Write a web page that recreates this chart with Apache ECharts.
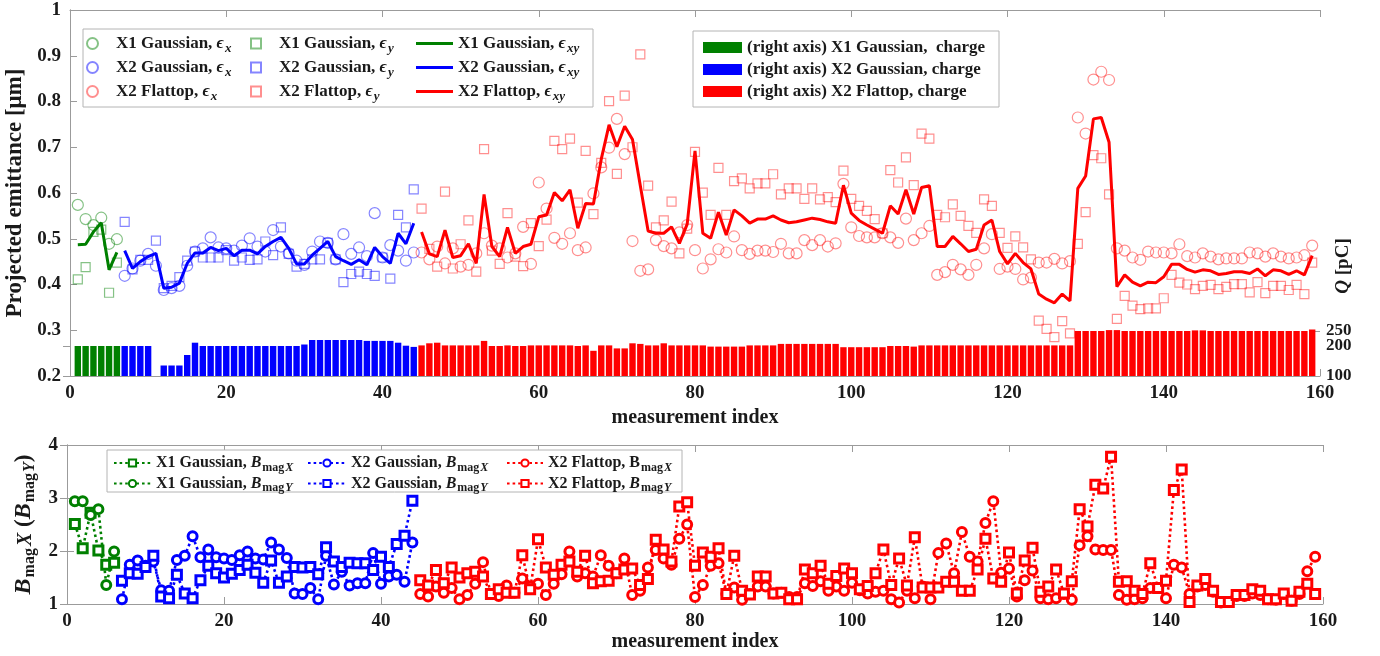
<!DOCTYPE html>
<html>
<head>
<meta charset="utf-8">
<script src="https://cdn.jsdelivr.net/npm/echarts@6/dist/echarts.min.js"></script>
<style>
  html, body { margin: 0; padding: 0; background: #fff; }
  #chart { width: 1380px; height: 656px; }
</style>
</head>
<body>
<div id="chart"></div>
<script>
// measurement index where each beam group begins
const X1_START = 1
const X2G_START = 7
const X2F_START = 45

// --- X1 Gaussian (index 1..6) ---
const x1Ex = [0.574, 0.543, 0.530, 0.546, 0.489, 0.499]
const x1Ey = [0.411, 0.438, 0.515, 0.520, 0.382, 0.448]
const x1Exy = [0.487, 0.488, 0.515, 0.535, 0.432, 0.470]
const x1Charge = [200, 200, 200, 200, 200, 200]
const x1BmagX = [2.51, 2.05, 2.72, 2.01, 1.74, 1.78]
const x1BmagY = [2.94, 2.94, 2.68, 2.79, 1.36, 1.99]

// --- X2 Gaussian (index 7..44) ---
const x2gEx = [0.419, 0.435, 0.452, 0.467, 0.441, 0.388, 0.392, 0.397, 0.441, 0.472,
  0.479, 0.503, 0.481, 0.479, 0.474, 0.485, 0.501, 0.483, 0.472, 0.519,
  0.483, 0.468, 0.452, 0.443, 0.472, 0.494, 0.491, 0.455, 0.510, 0.467,
  0.481, 0.462, 0.556, 0.459, 0.486, 0.474, 0.452, 0.470]
const x2gEy = [0.537, 0.433, 0.454, 0.454, 0.496, 0.392, 0.397, 0.416, 0.452, 0.472,
  0.459, 0.459, 0.459, 0.475, 0.452, 0.459, 0.454, 0.455, 0.494, 0.464,
  0.525, 0.467, 0.439, 0.445, 0.455, 0.455, 0.491, 0.455, 0.405, 0.423,
  0.428, 0.423, 0.419, 0.459, 0.413, 0.552, 0.525, 0.608]
const x2gExy = [0.474, 0.435, 0.450, 0.461, 0.468, 0.392, 0.394, 0.403, 0.446, 0.469,
  0.469, 0.481, 0.474, 0.479, 0.463, 0.475, 0.475, 0.467, 0.483, 0.494,
  0.503, 0.479, 0.445, 0.445, 0.464, 0.479, 0.494, 0.461, 0.452, 0.444,
  0.454, 0.443, 0.481, 0.461, 0.446, 0.512, 0.489, 0.534]
const x2gCharge = [200, 200, 200, 200, null, 135, 135, 135, 170, 211,
  200, 200, 200, 200, 200, 200, 200, 200, 200, 200,
  200, 200, 200, 205, 220, 220, 220, 220, 220, 220,
  220, 217, 217, 217, 217, 211, 201, 197]
const x2gBmagX = [1.09, 1.74, 1.82, 1.72, 1.80, 1.26, 1.25, 1.83, 1.91, 2.28,
  1.88, 2.03, 1.88, 1.86, 1.83, 1.92, 1.99, 1.86, 1.84, 2.16,
  2.03, 1.87, 1.20, 1.19, 1.30, 1.09, 1.91, 1.37, 1.61, 1.35,
  1.39, 1.39, 1.96, 1.38, 1.52, 1.55, 1.42, 2.16]
const x2gBmagY = [1.44, 1.58, 1.57, 1.70, 1.91, 1.14, 1.11, 1.55, 1.20, 1.11,
  1.45, 1.72, 1.58, 1.50, 1.57, 1.64, 1.74, 1.59, 1.40, 1.82,
  1.40, 1.52, 1.70, 1.69, 1.70, 1.56, 2.07, 1.80, 1.70, 1.78,
  1.77, 1.77, 1.64, 1.89, 1.70, 2.13, 2.29, 2.95]

// --- X2 Flattop (index 45..159) ---
const x2fEx = [0.470, 0.455, 0.483, 0.446, 0.479, 0.439, 0.443, 0.468, 0.512, 0.485,
  0.479, 0.459, 0.468, 0.526, 0.445, 0.623, 0.566, 0.502, 0.489, 0.512,
  0.475, 0.481, 0.599, 0.656, 0.699, 0.762, 0.685, 0.495, 0.430, 0.433,
  0.497, 0.484, 0.479, 0.514, 0.530, 0.475, 0.435, 0.455, 0.477, 0.470,
  0.505, 0.475, 0.467, 0.474, 0.474, 0.471, 0.489, 0.468, 0.468, 0.497,
  0.486, 0.497, 0.483, 0.490, 0.620, 0.525, 0.506, 0.503, 0.503, 0.512,
  0.503, 0.491, 0.544, 0.497, 0.512, 0.528, 0.421, 0.427, 0.443, 0.433,
  0.421, 0.443, 0.479, 0.510, 0.434, 0.439, 0.434, 0.411, 0.415, 0.448,
  0.448, 0.456, 0.446, 0.451, 0.765, 0.730, 0.848, 0.865, 0.847, 0.479,
  0.474, 0.459, 0.454, 0.472, 0.470, 0.470, 0.468, 0.488, 0.462, 0.459,
  0.468, 0.461, 0.455, 0.457, 0.457, 0.457, 0.470, 0.468, 0.461, 0.468,
  0.461, 0.457, 0.459, 0.464, 0.485]
const x2fEy = [0.566, 0.478, 0.439, 0.603, 0.435, 0.488, 0.540, 0.428, 0.696, 0.474,
  0.445, 0.556, 0.461, 0.440, 0.534, 0.484, 0.542, 0.714, 0.696, 0.719,
  0.579, 0.692, 0.554, 0.666, 0.801, 0.642, 0.813, 0.700, 0.903, 0.616,
  0.525, 0.540, 0.581, 0.468, 0.522, 0.690, 0.601, 0.552, 0.655, 0.552,
  0.626, 0.632, 0.610, 0.621, 0.621, 0.641, 0.597, 0.610, 0.610, 0.587,
  0.610, 0.586, 0.591, 0.580, 0.649, 0.587, 0.572, 0.561, 0.543, 0.512,
  0.650, 0.623, 0.678, 0.617, 0.730, 0.719, 0.552, 0.547, 0.575, 0.550,
  0.528, 0.513, 0.586, 0.572, 0.513, 0.480, 0.505, 0.481, 0.455, 0.321,
  0.303, 0.285, 0.320, 0.293, 0.489, 0.558, 0.683, 0.676, 0.597, 0.325,
  0.375, 0.354, 0.346, 0.348, 0.348, 0.370, 0.421, 0.404, 0.400, 0.390,
  0.397, 0.399, 0.390, 0.395, 0.401, 0.401, 0.383, 0.405, 0.381, 0.397,
  0.397, 0.388, 0.399, 0.379, 0.448]
const x2fExy = [0.515, 0.467, 0.461, 0.519, 0.459, 0.463, 0.489, 0.446, 0.597, 0.483,
  0.461, 0.525, 0.468, 0.483, 0.488, 0.548, 0.552, 0.601, 0.583, 0.607,
  0.523, 0.577, 0.576, 0.674, 0.749, 0.701, 0.746, 0.717, 0.616, 0.517,
  0.512, 0.512, 0.526, 0.490, 0.532, 0.692, 0.512, 0.501, 0.558, 0.508,
  0.563, 0.550, 0.534, 0.543, 0.543, 0.550, 0.541, 0.535, 0.537, 0.541,
  0.545, 0.542, 0.537, 0.534, 0.617, 0.556, 0.540, 0.530, 0.521, 0.512,
  0.572, 0.554, 0.607, 0.554, 0.612, 0.616, 0.483, 0.483, 0.505, 0.489,
  0.472, 0.477, 0.530, 0.541, 0.472, 0.445, 0.468, 0.448, 0.434, 0.379,
  0.368, 0.360, 0.379, 0.364, 0.610, 0.637, 0.762, 0.765, 0.711, 0.395,
  0.421, 0.405, 0.397, 0.405, 0.404, 0.417, 0.444, 0.444, 0.433, 0.427,
  0.432, 0.430, 0.422, 0.424, 0.428, 0.428, 0.424, 0.434, 0.419, 0.432,
  0.430, 0.422, 0.430, 0.421, 0.463]
const x2fCharge = [202, 209, 211, 202, 202, 202, 202, 202, 217, 200,
  200, 202, 200, 200, 202, 202, 202, 202, 202, 202,
  200, 202, 184, 202, 202, 192, 192, 209, 207, 202,
  202, 209, 202, 202, 202, 202, 202, 198, 198, 198,
  198, 198, 202, 202, 202, 202, 207, 207, 207, 207,
  207, 207, 207, 207, 196, 196, 196, 196, 196, 196,
  200, 200, 200, 198, 202, 202, 202, 202, 202, 202,
  202, 202, 202, 202, 202, 202, 202, 202, 202, 202,
  202, 202, 202, 202, 250, 250, 250, 250, 253, 253,
  250, 250, 250, 250, 250, 250, 250, 250, 250, 252,
  252, 250, 250, 250, 250, 250, 250, 250, 250, 250,
  250, 250, 250, 250, 255]
const x2fBmagX = [1.19, 1.14, 1.33, 1.21, 1.30, 1.09, 1.17, 1.38, 1.79, 1.19,
  1.15, 1.35, 1.21, 1.48, 1.33, 1.38, 1.17, 1.38, 1.56, 1.99,
  1.52, 1.58, 1.52, 1.92, 1.72, 1.58, 1.86, 1.17, 1.25, 1.69,
  2.02, 1.86, 1.74, 2.23, 2.50, 1.13, 1.36, 1.72, 1.77, 1.19,
  1.31, 1.08, 1.19, 1.33, 1.33, 1.20, 1.21, 1.13, 1.13, 1.39,
  1.34, 1.43, 1.25, 1.33, 1.25, 1.40, 1.26, 1.20, 1.23, 1.25,
  1.09, 1.03, 1.25, 1.11, 1.33, 1.09, 1.96, 2.14, 1.58, 2.36,
  1.89, 1.80, 2.53, 2.94, 1.59, 1.67, 1.14, 1.45, 1.63, 1.11,
  1.09, 1.11, 1.19, 1.08, 2.11, 2.28, 2.03, 2.02, 2.02, 1.17,
  1.08, 1.09, 1.11, 1.30, 1.30, 1.11, 1.74, 1.69, 1.19, 1.33,
  1.36, 1.23, 1.03, 1.04, 1.15, 1.15, 1.20, 1.17, 1.09, 1.08,
  1.19, 1.06, 1.19, 1.62, 1.89]
const x2fBmagY = [1.45, 1.35, 1.64, 1.39, 1.69, 1.50, 1.58, 1.61, 1.52, 1.19,
  1.28, 1.21, 1.21, 1.92, 1.28, 2.22, 1.69, 1.55, 1.74, 1.80,
  1.61, 1.91, 1.39, 1.43, 1.44, 1.58, 1.65, 1.67, 1.36, 1.47,
  2.21, 2.03, 1.80, 2.84, 2.92, 1.72, 1.97, 1.89, 2.05, 1.19,
  1.91, 1.25, 1.18, 1.52, 1.52, 1.20, 1.21, 1.09, 1.09, 1.65,
  1.58, 1.72, 1.38, 1.53, 1.67, 1.58, 1.28, 1.34, 1.58, 2.03,
  1.36, 1.86, 1.35, 2.26, 1.31, 1.31, 1.31, 1.42, 1.42, 1.25,
  1.25, 1.65, 2.23, 1.48, 1.42, 1.97, 1.20, 1.82, 2.06, 1.23,
  1.33, 1.65, 1.20, 1.43, 2.79, 2.46, 3.25, 3.18, 3.78, 1.42,
  1.43, 1.25, 1.19, 1.77, 1.30, 1.44, 3.15, 3.54, 1.04, 1.35,
  1.47, 1.25, 1.04, 1.04, 1.17, 1.17, 1.28, 1.25, 1.09, 1.09,
  1.20, 1.06, 1.23, 1.38, 1.19]

// axis ticks / labels
const xTicks = { min: 0, max: 160, interval: 20 }
const chargeTicksLow = [100, 200]
const chargeTicksHigh = [250]

const SERIF = 'Liberation Serif'
const AXIS_GRAY = '#9b9b9b'
const TXT = '#1a1a1a'
const GREEN = '#008000', BLUE = '#0000ff', RED = '#ff0000'
const fade = { [GREEN]: 'rgba(0,128,0,0.6)', [BLUE]: 'rgba(0,0,255,0.6)', [RED]: 'rgba(255,0,0,0.55)' }

/** [index, value] pairs from a group's start index */
const pts = (start, arr) => arr.map((v, i) => [start + i, v]).filter(p => p[1] != null)

/** legend labels (rich text) */
const LABELS = {
  x1ex: 'X1 Gaussian, {e|ϵ}{s|x}', x1ey: 'X1 Gaussian, {e|ϵ}{s|y}', x1exy: 'X1 Gaussian, {e|ϵ}{s|xy}',
  x2gex: 'X2 Gaussian, {e|ϵ}{s|x}', x2gey: 'X2 Gaussian, {e|ϵ}{s|y}', x2gexy: 'X2 Gaussian, {e|ϵ}{s|xy}',
  x2fex: 'X2 Flattop, {e|ϵ}{s|x}', x2fey: 'X2 Flattop, {e|ϵ}{s|y}', x2fexy: 'X2 Flattop, {e|ϵ}{s|xy}',
  q1: '(right axis) X1 Gaussian,  charge', q2: '(right axis) X2 Gaussian, charge', q3: '(right axis) X2 Flattop, charge',
  x1bx: 'X1 Gaussian, {B|B}{m|mag}{mi|X}', x1by: 'X1 Gaussian, {B|B}{m|mag}{mi|Y}',
  x2gbx: 'X2 Gaussian, {B|B}{m|mag}{mi|X}', x2gby: 'X2 Gaussian, {B|B}{m|mag}{mi|Y}',
  x2fbx: 'X2 Flattop, B{m|mag}{mi|X}', x2fby: 'X2 Flattop, {B|B}{m|mag}{mi|Y}',
}

const legendRich = {
  e: { fontFamily: SERIF, fontSize: 17, fontStyle: 'italic', color: TXT },
  s: { fontFamily: SERIF, fontSize: 13, fontStyle: 'italic', fontWeight: 'bold', color: TXT, padding: [10, 0, 0, 1] },
}
const bRich = {
  B: { fontFamily: SERIF, fontSize: 16, fontStyle: 'italic', fontWeight: 'bold', color: TXT },
  m: { fontFamily: SERIF, fontSize: 12, fontWeight: 'bold', color: TXT, padding: [9, 0, 0, 1] },
  mi: { fontFamily: SERIF, fontSize: 12, fontStyle: 'italic', fontWeight: 'bold', color: TXT, padding: [9, 0, 0, 1] },
}

const emScatter = (name, start, arr, color, symbol, size) => ({
  name, type: 'scatter', data: pts(start, arr), xAxisIndex: 0, yAxisIndex: 0,
  symbol, symbolSize: size,
  itemStyle: { color: 'rgba(0,0,0,0)', borderColor: fade[color], borderWidth: 1.2 },
  z: 2,
})
const emLine = (name, start, arr, color) => ({
  name, type: 'line', data: pts(start, arr), xAxisIndex: 0, yAxisIndex: 0,
  symbol: 'none', lineStyle: { color, width: 3 }, itemStyle: { color }, z: 3,
})
const chargeBar = (name, start, arr, color) => ({
  name, type: 'bar', data: pts(start, arr), xAxisIndex: 0, yAxisIndex: 1,
  barWidth: 6.4, barGap: '-100%', itemStyle: { color }, z: 2,
})
const bmagLine = (name, start, arr, color, symbol) => ({
  name, type: 'line', data: pts(start, arr), xAxisIndex: 2, yAxisIndex: 2,
  symbol, symbolSize: 9,
  lineStyle: { color, width: 2.6, type: [2.6, 3] },
  itemStyle: { color: '#fff', borderColor: color, borderWidth: 3 },
  z: 3,
})

const tickLabel = { fontFamily: SERIF, fontWeight: 'bold', fontSize: 19, color: TXT }
const nameStyle = { fontFamily: SERIF, fontWeight: 'bold', fontSize: 23, color: TXT }
const line = { lineStyle: { color: AXIS_GRAY, width: 1 } }
const tickIn = { inside: true, length: 7, lineStyle: { color: AXIS_GRAY } }
const legendText = (size, pad, rich) => ({
  fontFamily: SERIF, fontWeight: 'bold', fontSize: size, color: TXT, padding: [0, 0, 0, pad], rich,
})
// right-hand charge axis (two copies so the close 200/250 labels are both drawn)
const chargeAxis = (ticks, showLine) => ({
  gridIndex: 0, type: 'value', min: 100, max: 1320, position: 'right', axisLine: { show: showLine, ...line },
  axisTick: { show: true, ...tickIn, customValues: ticks }, splitLine: { show: false },
  axisLabel: { ...tickLabel, fontSize: 17, margin: 6, hideOverlap: false, customValues: ticks },
})

const chart = echarts.init(document.getElementById('chart'), null, { renderer: 'canvas' })

const option = {
  backgroundColor: '#fff',
  animation: false,
  grid: [
    { left: 70, right: 60, top: 10, height: 366, outerBoundsMode: 'none' },
    { left: 67, right: 57, top: 445, height: 159, outerBoundsMode: 'none' },
  ],
  xAxis: [
    { gridIndex: 0, type: 'value', ...xTicks, position: 'bottom', axisLine: line, axisTick: tickIn,
      axisLabel: { ...tickLabel, margin: 8 }, splitLine: { show: false },
      name: 'measurement index', nameLocation: 'middle', nameGap: 20, nameTextStyle: { ...nameStyle, fontSize: 20 } },
    { gridIndex: 0, type: 'value', ...xTicks, position: 'top', axisLine: line, axisTick: tickIn,
      axisLabel: { show: false }, splitLine: { show: false } },
    { gridIndex: 1, type: 'value', ...xTicks, position: 'bottom', axisLine: line, axisTick: tickIn,
      axisLabel: { ...tickLabel, margin: 8 }, splitLine: { show: false },
      name: 'measurement index', nameLocation: 'middle', nameGap: 22, nameTextStyle: { ...nameStyle, fontSize: 20 } },
    { gridIndex: 1, type: 'value', ...xTicks, position: 'top', axisLine: line, axisTick: tickIn,
      axisLabel: { show: false }, splitLine: { show: false } },
  ],
  yAxis: [
    { gridIndex: 0, type: 'value', min: 0.2, max: 1, interval: 0.1, position: 'left', axisLine: { show: true, ...line },
      axisTick: { show: true, ...tickIn }, splitLine: { show: false },
      axisLabel: { ...tickLabel, margin: 9, formatter: v => String(+v.toFixed(1)) },
      name: 'Projected emittance [μm]', nameLocation: 'middle', nameGap: 40, nameTextStyle: nameStyle },
    chargeAxis(chargeTicksLow, true),
    { gridIndex: 1, type: 'value', min: 1, max: 4, interval: 1, position: 'left', axisLine: { show: true, ...line },
      axisTick: { show: true, ...tickIn }, splitLine: { show: false },
      axisLabel: { ...tickLabel, margin: 9 },
      name: '{B|B}{m|mag}{X|X} {n|(}{B|B}{m|mag}{mi|Y}{n|)}', nameLocation: 'middle', nameGap: 24,
      nameTextStyle: { ...nameStyle, rich: {
        B: { fontFamily: SERIF, fontSize: 24, fontStyle: 'italic', fontWeight: 'bold', color: TXT },
        X: { fontFamily: SERIF, fontSize: 20, fontStyle: 'italic', fontWeight: 'bold', color: TXT, padding: [5, 0, 0, 2] },
        n: { fontFamily: SERIF, fontSize: 23, fontWeight: 'bold', color: TXT },
        m: { fontFamily: SERIF, fontSize: 16, fontWeight: 'bold', color: TXT, padding: [12, 0, 0, 1] },
        mi: { fontFamily: SERIF, fontSize: 16, fontStyle: 'italic', fontWeight: 'bold', color: TXT, padding: [12, 0, 0, 1] },
      } } },
    { gridIndex: 1, type: 'value', min: 1, max: 4, interval: 1, position: 'right', axisLine: { show: true, ...line },
      axisTick: { show: true, ...tickIn }, splitLine: { show: false }, axisLabel: { show: false } },
    chargeAxis(chargeTicksHigh, false),
  ],
  legend: [
    { data: ['x1ex', 'x2gex', 'x2fex'], orient: 'vertical', left: 86, top: 35, padding: 0,
      itemWidth: 11, itemHeight: 11, itemGap: 4, selectedMode: false, formatter: n => LABELS[n],
      textStyle: legendText(17, 13, legendRich) },
    { data: ['x1ey', 'x2gey', 'x2fey'], orient: 'vertical', left: 250, top: 35, padding: 0,
      itemWidth: 10, itemHeight: 10, itemGap: 4, selectedMode: false, formatter: n => LABELS[n],
      textStyle: legendText(17, 13, legendRich) },
    { data: ['x1exy', 'x2gexy', 'x2fexy'], orient: 'vertical', left: 416, top: 35, padding: 0,
      itemWidth: 37, itemHeight: 3, itemGap: 4, icon: 'rect', selectedMode: false, formatter: n => LABELS[n],
      textStyle: legendText(17, 0, legendRich) },
    { data: ['q1', 'q2', 'q3'], orient: 'vertical', left: 703, top: 39, padding: 0,
      itemWidth: 39, itemHeight: 11, itemGap: 5, icon: 'rect', selectedMode: false, formatter: n => LABELS[n],
      textStyle: legendText(17, 0) },
    { data: ['x1bx', 'x1by'], orient: 'vertical', left: 113, top: 455, padding: 0, itemWidth: 37, itemHeight: 9, itemGap: 2,
      selectedMode: false, formatter: n => LABELS[n], textStyle: legendText(16, 0, bRich) },
    { data: ['x2gbx', 'x2gby'], orient: 'vertical', left: 307, top: 455, padding: 0, itemWidth: 38, itemHeight: 9, itemGap: 2,
      selectedMode: false, formatter: n => LABELS[n], textStyle: legendText(16, 0, bRich) },
    { data: ['x2fbx', 'x2fby'], orient: 'vertical', left: 506, top: 455, padding: 0, itemWidth: 36, itemHeight: 9, itemGap: 2,
      selectedMode: false, formatter: n => LABELS[n], textStyle: legendText(16, 0, bRich) },
  ],
  graphic: [
    { type: 'rect', shape: { x: 83, y: 29, width: 510, height: 78 }, style: { fill: '#fff', stroke: '#b4b4b4', lineWidth: 1 }, z: 3 },
    { type: 'rect', shape: { x: 693, y: 31, width: 306, height: 76 }, style: { fill: '#fff', stroke: '#b4b4b4', lineWidth: 1 }, z: 3 },
    { type: 'rect', shape: { x: 107, y: 450, width: 575, height: 42 }, style: { fill: '#fff', stroke: '#b4b4b4', lineWidth: 1 }, z: 3 },
    { type: 'text', x: 1343, y: 266, rotation: Math.PI / 2, z: 5,
      style: { text: '{q|Q} [pC]', fontFamily: SERIF, fontWeight: 'bold', fontSize: 19, fill: TXT, align: 'center', verticalAlign: 'middle',
        rich: { q: { fontFamily: SERIF, fontWeight: 'bold', fontStyle: 'italic', fontSize: 19, fill: TXT } } } },
  ],
  series: [
    chargeBar('q1', X1_START, x1Charge, GREEN),
    chargeBar('q2', X2G_START, x2gCharge, BLUE),
    chargeBar('q3', X2F_START, x2fCharge, RED),

    emScatter('x1ex', X1_START, x1Ex, GREEN, 'circle', 11),
    emScatter('x1ey', X1_START, x1Ey, GREEN, 'rect', 9),
    emScatter('x2gex', X2G_START, x2gEx, BLUE, 'circle', 11),
    emScatter('x2gey', X2G_START, x2gEy, BLUE, 'rect', 9),
    emScatter('x2fex', X2F_START, x2fEx, RED, 'circle', 11),
    emScatter('x2fey', X2F_START, x2fEy, RED, 'rect', 9),
    emLine('x1exy', X1_START, x1Exy, GREEN),
    emLine('x2gexy', X2G_START, x2gExy, BLUE),
    emLine('x2fexy', X2F_START, x2fExy, RED),

    bmagLine('x1bx', X1_START, x1BmagX, GREEN, 'rect'),
    bmagLine('x1by', X1_START, x1BmagY, GREEN, 'circle'),
    bmagLine('x2gbx', X2G_START, x2gBmagX, BLUE, 'circle'),
    bmagLine('x2gby', X2G_START, x2gBmagY, BLUE, 'rect'),
    bmagLine('x2fbx', X2F_START, x2fBmagX, RED, 'circle'),
    bmagLine('x2fby', X2F_START, x2fBmagY, RED, 'rect'),
  ],
}

chart.setOption(option)
</script>
</body>
</html>
